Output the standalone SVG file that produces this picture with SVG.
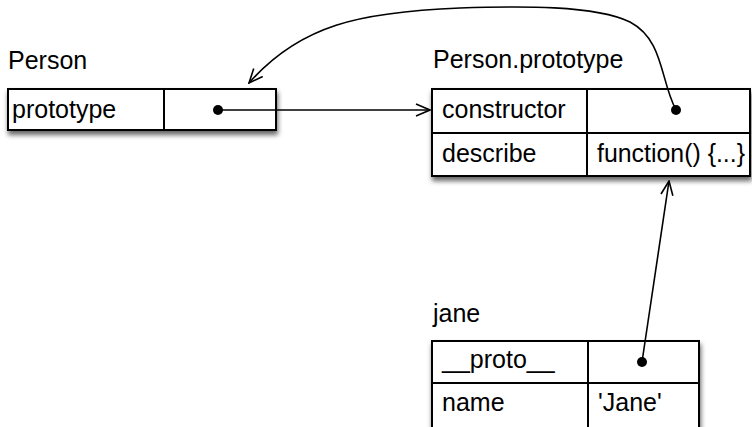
<svg xmlns="http://www.w3.org/2000/svg" width="752" height="427" viewBox="0 0 752 427">
<style>
.box{fill:#fff;stroke:#000;stroke-width:2;filter:url(#sh)}
.ln{stroke:#000;stroke-width:2;fill:none}
.t{font-family:"Liberation Sans",Arial,sans-serif;font-size:25px;fill:#000}
.c{stroke:#000;stroke-width:1.6;fill:none}
.dot{fill:#000}
</style>
<defs>
<filter id="sh" x="-10%" y="-20%" width="120%" height="160%">
<feDropShadow dx="1" dy="4" stdDeviation="2.5" flood-color="#000" flood-opacity="0.6"/>
</filter>
<marker id="ar" viewBox="0 0 16 14" refX="15" refY="7" markerWidth="16" markerHeight="14" markerUnits="userSpaceOnUse" orient="auto">
<path d="M1,1 L15,7 L1,13" fill="none" stroke="#000" stroke-width="1.6"/>
</marker>
</defs>
<g id="person">
<text class="t" x="8" y="69">Person</text>
<rect class="box" x="8" y="89" width="268" height="41"/>
<line class="ln" x1="164" y1="89" x2="164" y2="130"/>
<text class="t" x="12" y="118">prototype</text>
<circle class="dot" cx="218" cy="110" r="5"/>
</g>
<g id="person-prototype">
<text class="t" x="433" y="68">Person.prototype</text>
<rect class="box" x="432" y="89" width="318" height="87"/>
<line class="ln" x1="432" y1="133" x2="750" y2="133"/>
<line class="ln" x1="587" y1="89" x2="587" y2="176"/>
<text class="t" x="442" y="118">constructor</text>
<text class="t" x="442" y="162">describe</text>
<text class="t" x="597" y="162" textLength="148" lengthAdjust="spacingAndGlyphs">function() {...}</text>
<circle class="dot" cx="676" cy="110" r="5"/>
</g>
<g id="jane">
<text class="t" x="433" y="322">jane</text>
<rect class="box" x="432" y="341" width="267" height="95"/>
<line class="ln" x1="432" y1="383" x2="699" y2="383"/>
<line class="ln" x1="588" y1="341" x2="588" y2="436"/>
<text class="t" x="442" y="368">__proto__</text>
<text class="t" x="442" y="411">name</text>
<text class="t" x="598" y="411">'Jane'</text>
<circle class="dot" cx="642" cy="362" r="5"/>
</g>
<g id="connectors">
<line class="c" x1="218" y1="110" x2="430" y2="110" marker-end="url(#ar)"/>
<path class="c" d="M676,110 C660,80 664,40 630,22 C595,5 520,6 460,8 C360,12 300,25 249,83" marker-end="url(#ar)"/>
<line class="c" x1="642" y1="362" x2="669" y2="181" marker-end="url(#ar)"/>
</g>
</svg>
